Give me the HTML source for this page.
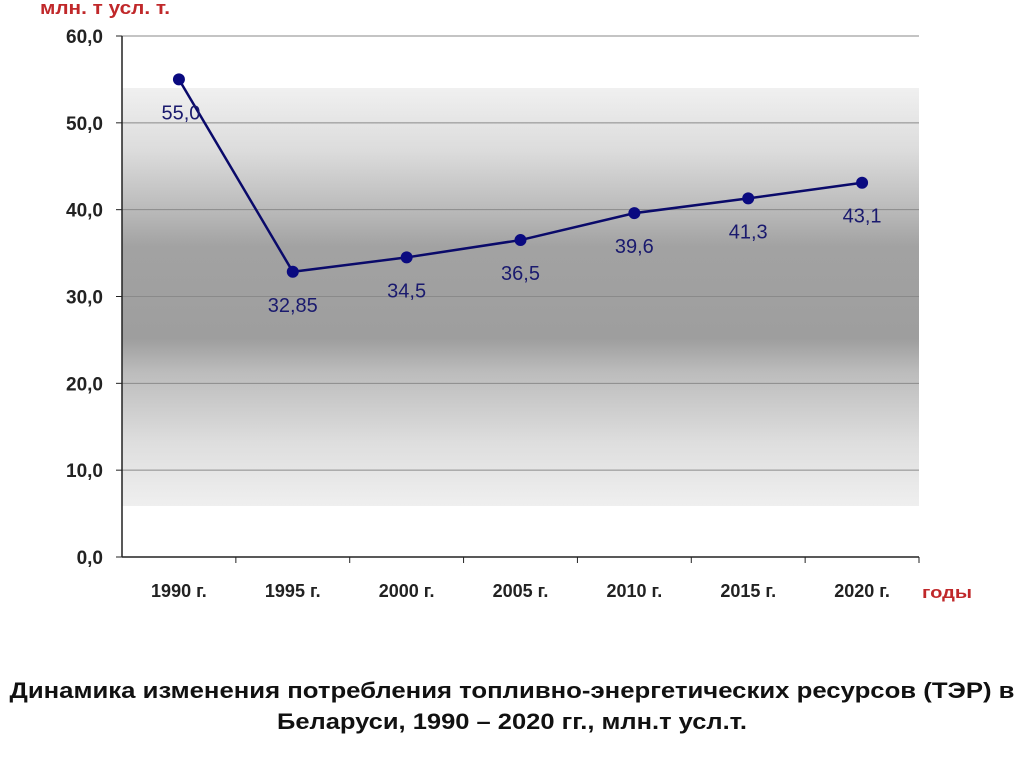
<!DOCTYPE html>
<html><head><meta charset="utf-8"><style>
body{margin:0;width:1024px;height:767px;background:#fff;overflow:hidden;font-family:"Liberation Sans",sans-serif}
</style></head><body>
<svg width="1024" height="767">
<defs><linearGradient id="bg" x1="0" y1="0" x2="0" y2="1">
<stop offset="0" stop-color="#f0f0f0"/><stop offset="0.15" stop-color="#dcdcdc"/><stop offset="0.28" stop-color="#bdbdbd"/><stop offset="0.38" stop-color="#a2a2a2"/><stop offset="0.6" stop-color="#9e9e9e"/><stop offset="0.68" stop-color="#bcbcbc"/><stop offset="0.85" stop-color="#dedede"/><stop offset="1" stop-color="#efefef"/>
</linearGradient></defs>
<rect x="122" y="88" width="797" height="418" fill="url(#bg)"/>
<g id="grid"></g><g id="axes"></g><g id="series"></g>
<text x="40" y="14" fill="#c0282a" font-size="18" font-weight="bold" textLength="130" lengthAdjust="spacingAndGlyphs">млн. т усл. т.</text>
<text x="922" y="598" fill="#c0282a" font-size="17" font-weight="bold" textLength="50" lengthAdjust="spacingAndGlyphs">годы</text>
<text x="512" y="698" text-anchor="middle" font-size="22" font-weight="bold" fill="#111" textLength="1005" lengthAdjust="spacingAndGlyphs">Динамика изменения потребления топливно-энергетических ресурсов (ТЭР) в</text>
<text x="512" y="729" text-anchor="middle" font-size="22" font-weight="bold" fill="#111" textLength="470" lengthAdjust="spacingAndGlyphs">Беларуси, 1990 – 2020 гг., млн.т усл.т.</text>
</svg>
<script>
const categories=["1990 г.","1995 г.","2000 г.","2005 г.","2010 г.","2015 г.","2020 г."];
const values=[55.0,32.85,34.5,36.5,39.6,41.3,43.1];
const valueLabels=["55,0","32,85","34,5","36,5","39,6","41,3","43,1"];
const yTicks=[0,10,20,30,40,50,60];
const yTickLabels=["0,0","10,0","20,0","30,0","40,0","50,0","60,0"];
const NS="http://www.w3.org/2000/svg";
const x0=122,x1=919,y0=557,y1=36,ymax=60;
const bw=(x1-x0)/categories.length;
const X=i=>x0+bw*(i+0.5);
const Y=v=>y0-(v/ymax)*(y0-y1);
function mk(p,t,a){const e=document.createElementNS(NS,t);for(const k in a)e.setAttribute(k,a[k]);p.appendChild(e);return e;}
const grid=document.getElementById('grid'),axes=document.getElementById('axes'),ser=document.getElementById('series');
yTicks.forEach((v,i)=>{
 if(v>0){const l=mk(grid,'line',{x1:x0,x2:x1,y1:Y(v),y2:Y(v),stroke:'#8a8a8a','stroke-width':1});
 
 }
 const tk=mk(axes,'line',{x1:x0-6,x2:x0,y1:Y(v),y2:Y(v),stroke:'#222'});
 
 
 const t=mk(axes,'text',{x:103,y:Y(v)+7,'text-anchor':'end','font-size':19,'font-weight':'bold',fill:'#222'});
 t.textContent=yTickLabels[i];
 
 
});
const ya=mk(axes,'line',{x1:x0,x2:x0,y1:y1,y2:y0,stroke:'#222','stroke-width':1.5});


const xa=mk(axes,'line',{x1:x0,x2:x1,y1:y0,y2:y0,stroke:'#222','stroke-width':1.5});


categories.forEach((c,i)=>{
 const tk=mk(axes,'line',{x1:x0+bw*(i+1),x2:x0+bw*(i+1),y1:y0,y2:y0+6,stroke:'#222'});
 
 
 const t=mk(axes,'text',{x:X(i),y:597,'text-anchor':'middle','font-size':18,'font-weight':'bold',fill:'#222'});
 t.textContent=c;
 
 
});
const pl=mk(ser,'polyline',{points:values.map((v,i)=>X(i)+','+Y(v)).join(' '),fill:'none',stroke:'#0a0a6a','stroke-width':2.5});


values.forEach((v,i)=>{
 const c=mk(ser,'circle',{cx:X(i),cy:Y(v),r:6,fill:'#0a0a80'});
 
 
 const t=mk(ser,'text',{x:X(i)+(i==0?2:0),y:Y(v)+40,'text-anchor':'middle','font-size':20,fill:'#1a1a6e'});
 t.textContent=valueLabels[i];
 
 
});
</script>
</body></html>
